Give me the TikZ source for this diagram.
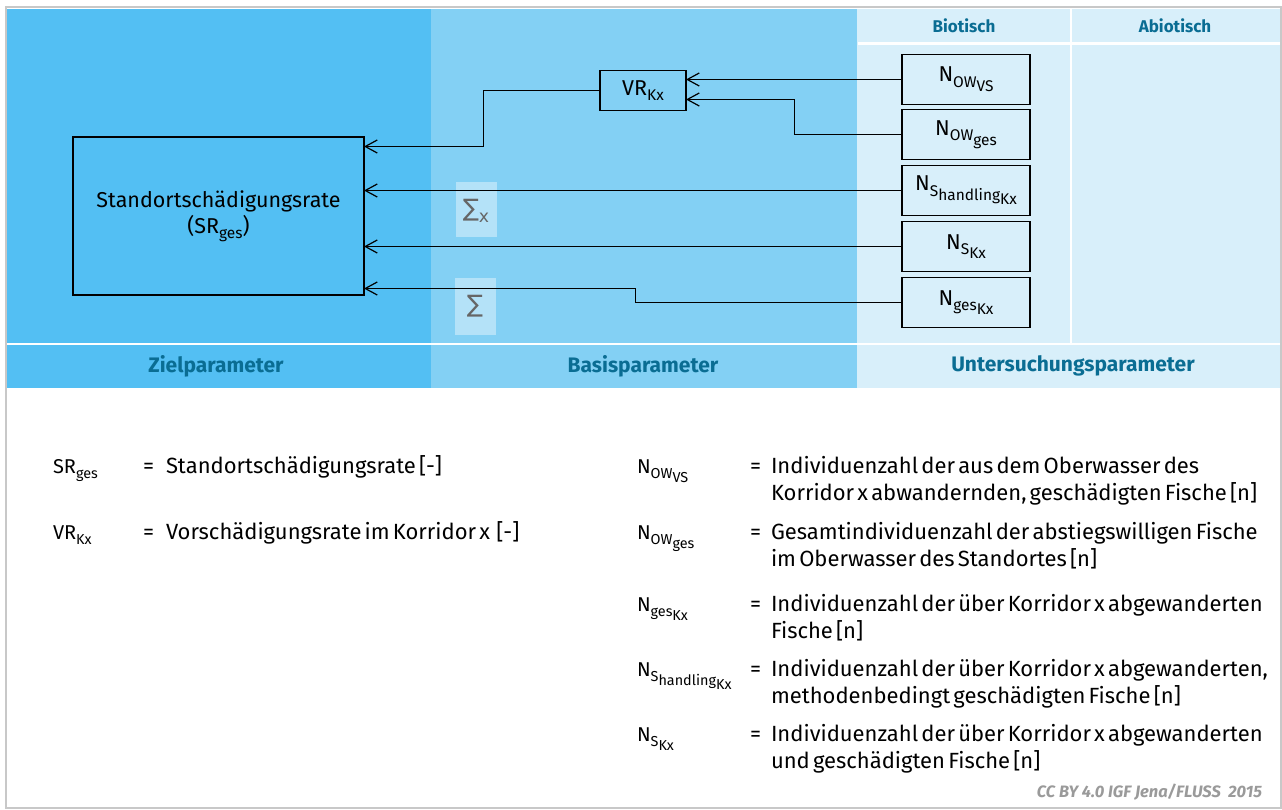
\documentclass[tikz,border=0pt]{standalone}
\usepackage{fontspec}
\setmainfont{Fira Sans}
\newfontfamily\legfont{Fira Sans}[WordSpace=0.55]
\newfontfamily\symfont{DejaVu Sans}
\usetikzlibrary{arrows.meta}

\definecolor{zielblue}{HTML}{53BFF3}
\definecolor{basisblue}{HTML}{83D0F4}
\definecolor{unterblue}{HTML}{D8EFFA}
\definecolor{headtext}{HTML}{0A6D93}
\definecolor{sigmabox}{HTML}{B4E2F8}
\definecolor{sigmatext}{HTML}{666666}
\definecolor{framegray}{HTML}{C8C8C8}
\definecolor{creditgray}{HTML}{9A9A9A}

\makeatletter
% first-level index: smaller and lowered
\newcommand\lsub[1]{\raisebox{-0.25em}{\fontsize{\dimexpr0.72\dimexpr\f@size pt\relax\relax}{0}\selectfont #1}}
% deeper index: same size as its parent, lowered further
\newcommand\llsub[1]{\raisebox{-0.28em}{#1}}
\makeatother

\begin{document}
\begin{tikzpicture}[x=1pt,y=-1pt,
  every node/.style={inner sep=0pt, outer sep=0pt},
  parbox/.style={draw, line width=1.3pt, align=center, font=\fontsize{21.5}{25}\selectfont},
  nbox/.style={parbox, minimum width=128pt, minimum height=50pt},
  conn/.style={line width=1.2pt, -{Straight Barb[length=12pt,width=13pt,line width=1.2pt]}},
  colhead/.style={font=\bfseries\fontsize{21}{24}\selectfont, text=headtext},
  subhead/.style={font=\bfseries\fontsize{17}{20}\selectfont, text=headtext},
  legsym/.style={anchor=base west, font=\fontsize{20}{24}\selectfont},
  legtxt/.style={anchor=base west, font=\legfont\fontsize{22}{27}\selectfont},
  sigma/.style={font=\symfont\fontsize{24}{24}\selectfont, text=sigmatext}
]
\useasboundingbox (0,0) rectangle (1282,809);
\fill[white] (0,0) rectangle (1282,809);

% column backgrounds
\fill[zielblue]  (7,9) rectangle (431,388);
\fill[basisblue] (431,9) rectangle (857,388);
\fill[unterblue] (857,9) rectangle (1282,388);
% white separators
\fill[white] (7,342.5) rectangle (1282,345);
\fill[white] (858,42) rectangle (1282,44.5);
\fill[white] (1069.5,9) rectangle (1072,343);
% frame
\draw[framegray, line width=2pt] (6,7) -- (1281,7) -- (1281,808) -- (6,808) -- cycle;

% column headings
\node[colhead] (hz) at (216,366) {Zielparameter};
\node[colhead] (hb) at (643,366) {Basisparameter};
\node[colhead] (hu) at (1073,366) {Untersuchungsparameter};
\node[subhead] (hbio) at (964,26) {Biotisch};
\node[subhead] (habio) at (1175,26) {Abiotisch};

% summation markers
\fill[sigmabox] (456,182) rectangle (497,237);
\node[sigma] (s1) at (476,211) {∑\lsub{x}};
\fill[sigmabox] (455,278) rectangle (496,335);
\node[sigma] (s2) at (475,306) {∑};

% parameter boxes
\node[parbox, minimum width=291pt, minimum height=158pt] (sr) at (218.5,216)
  {Standortschädigungsrate\\[1pt](SR\lsub{ges})};
\node[parbox, minimum width=86pt, minimum height=40pt] (vr) at (643,90.5) {VR\lsub{Kx}};
\node[nbox] (n1) at (966,79.5)  {N\lsub{OW\llsub{VS}}};
\node[nbox] (n2) at (966,134.5) {N\lsub{OW\llsub{ges}}};
\node[nbox] (n3) at (966,190.5) {N\lsub{S\llsub{handling\llsub{Kx}}}};
\node[nbox] (n4) at (966,246.5) {N\lsub{S\llsub{Kx}}};
\node[nbox] (n5) at (966,302.5) {N\lsub{ges\llsub{Kx}}};

% bend points
\coordinate (b2) at (794.5,99.5);
\coordinate (bv) at (483.5,146.5);
\coordinate (b5) at (635.5,288.5);

% connectors
\draw[conn] (n1.west) -- (n1.west -| vr.east);
\draw[conn] (n2.west) -| (b2) -- (b2 -| vr.east);
\draw[conn] (vr.west) -| (bv) -- (bv -| sr.east);
\draw[conn] (n3.west) -- (n3.west -| sr.east);
\draw[conn] (n4.west) -- (n4.west -| sr.east);
\draw[conn] (n5.west) -| (b5) -- (b5 -| sr.east);

% legend, left column
\node[legsym] (l1s) at (53,473) {SR\lsub{ges}};
\node[legtxt] (l1e) at (143,473) {=};
\node[legtxt] (l1t) at (166,473) {Standortschädigungsrate [-]};
\node[legsym] (l2s) at (53,539) {VR\lsub{Kx}};
\node[legtxt] (l2e) at (143,539) {=};
\node[legtxt] (l2t) at (166,539) {Vorschädigungsrate im Korridor x \ [-]};

% legend, right column
\node[legsym] (r1s) at (637,473) {N\lsub{OW\llsub{VS}}};
\node[legtxt] (r1e) at (750,473) {=};
\node[legtxt] (r1t) at (771,473) {\vtop{\baselineskip=27pt
  \hbox{Individuenzahl der aus dem Oberwasser des}
  \hbox{Korridor x abwandernden, geschädigten Fische [n]}}};
\node[legsym] (r2s) at (637,539) {N\lsub{OW\llsub{ges}}};
\node[legtxt] (r2e) at (750,539) {=};
\node[legtxt] (r2t) at (771,539) {\vtop{\baselineskip=27pt
  \hbox{Gesamtindividuenzahl der abstiegswilligen Fische}
  \hbox{im Oberwasser des Standortes [n]}}};
\node[legsym] (r3s) at (637,611) {N\lsub{ges\llsub{Kx}}};
\node[legtxt] (r3e) at (750,611) {=};
\node[legtxt] (r3t) at (771,611) {\vtop{\baselineskip=27pt
  \hbox{Individuenzahl der über Korridor x abgewanderten}
  \hbox{Fische [n]}}};
\node[legsym] (r4s) at (637,676) {N\lsub{S\llsub{handling\llsub{Kx}}}};
\node[legtxt] (r4e) at (750,676) {=};
\node[legtxt] (r4t) at (771,676) {\vtop{\baselineskip=27pt
  \hbox{Individuenzahl der über Korridor x abgewanderten,}
  \hbox{methodenbedingt geschädigten Fische [n]}}};
\node[legsym] (r5s) at (637,741) {N\lsub{S\llsub{Kx}}};
\node[legtxt] (r5e) at (750,741) {=};
\node[legtxt] (r5t) at (771,741) {\vtop{\baselineskip=27pt
  \hbox{Individuenzahl der über Korridor x abgewanderten}
  \hbox{und geschädigten Fische [n]}}};

% credit line
\node[anchor=base east, text=creditgray, font=\bfseries\itshape\fontsize{16.5}{18}\selectfont] (cr)
  at (1262,797) {CC BY 4.0 IGF Jena/FLUSS \ 2015};
\end{tikzpicture}
\end{document}
